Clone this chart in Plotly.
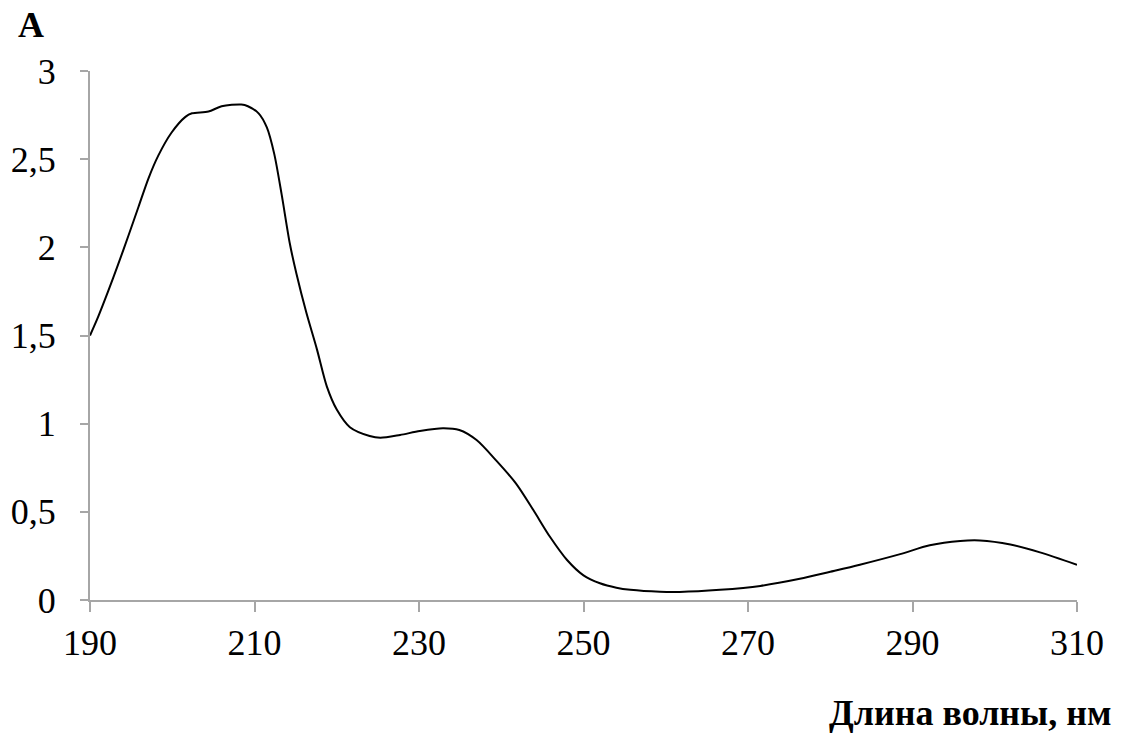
import plotly.graph_objects as go

wavelength = [190, 191.0, 192.2, 193.4, 194.7, 195.9, 197.1, 198.3, 199.9, 201.6, 202.4, 204.4,
              206.0, 208.4, 209.2, 210.5, 211.5, 212.4, 213.3, 214.3, 215.1, 216.3, 217.6,
              218.8, 220.0, 221.6, 224.0, 225.3, 227.7, 230.1, 232.9, 234.9, 237.0, 239.4,
              241.8, 243.9, 245.9, 248.0, 250.0, 252.0, 254.0, 255.7, 259.3, 261.7, 266.6,
              271.5, 276.3, 280, 283.6, 288.5, 292.1, 295.8, 298.2, 301.9, 305.5, 310]
absorbance = [1.5, 1.607, 1.75, 1.90, 2.07, 2.23, 2.39, 2.52, 2.65, 2.74, 2.76, 2.77,
              2.80, 2.81, 2.80, 2.76, 2.68, 2.53, 2.30, 2.02, 1.85, 1.63, 1.42,
              1.21, 1.08, 0.98, 0.93, 0.92, 0.936, 0.958, 0.974, 0.964, 0.907, 0.79,
              0.66, 0.51, 0.36, 0.227, 0.14, 0.095, 0.07, 0.058, 0.047, 0.046, 0.058,
              0.08, 0.12, 0.16, 0.20, 0.26, 0.31, 0.335, 0.338, 0.315, 0.27, 0.2]

x_ticks = [190, 210, 230, 250, 270, 290, 310]
y_ticks = [0, 0.5, 1, 1.5, 2, 2.5, 3]
y_tick_labels = ["0", "0,5", "1", "1,5", "2", "2,5", "3"]

fig = go.Figure()
fig.add_trace(go.Scatter(x=wavelength, y=absorbance, mode="lines",
                         line=dict(color="black", width=2, shape="spline", smoothing=0.8),
                         showlegend=False, hoverinfo="skip"))
# same data on an overlaid axis that only carries the tick labels (placed farther out)
fig.add_trace(go.Scatter(x=wavelength, y=absorbance, mode="lines", yaxis="y2",
                         line=dict(color="rgba(0,0,0,0)", width=0),
                         showlegend=False, hoverinfo="skip"))

font_family = "Liberation Serif, Times New Roman, serif"
fig.update_layout(
    width=1130, height=747,
    margin=dict(l=90, r=53, t=71, b=147),
    paper_bgcolor="white", plot_bgcolor="white",
    font=dict(family=font_family, size=36, color="black"),
    xaxis=dict(range=[190, 310], tickvals=x_ticks, ticktext=[str(v) for v in x_ticks],
               showgrid=False, zeroline=False, showline=True, linecolor="#a6a6a6", linewidth=1.5,
               ticks="outside", ticklen=10, tickcolor="#a6a6a6", tickwidth=1.5,
               tickfont=dict(family=font_family, size=36, color="black")),
    yaxis=dict(range=[0, 3], tickvals=y_ticks, showticklabels=False,
               showgrid=False, zeroline=False, showline=True, linecolor="#a6a6a6", linewidth=1.5,
               ticks="outside", ticklen=8, tickcolor="#a6a6a6", tickwidth=1.5),
    yaxis2=dict(range=[0, 3], tickvals=y_ticks, ticktext=y_tick_labels,
                overlaying="y", side="left", anchor="x",
                showgrid=False, zeroline=False, showline=False,
                ticks="outside", ticklen=26, tickcolor="rgba(0,0,0,0)",
                tickfont=dict(family=font_family, size=36, color="black")),
    annotations=[
        dict(text="<b>A</b>", xref="paper", yref="paper", x=-0.0598, y=1.087,
             xanchor="center", yanchor="middle", showarrow=False,
             font=dict(family=font_family, size=36, color="black")),
        dict(text="<b>Длина волны, нм</b>", xref="paper", yref="paper", x=1.0365, y=-0.2136,
             xanchor="right", yanchor="middle", showarrow=False,
             font=dict(family=font_family, size=36, color="black")),
    ],
)

fig.write_html("out.html")
